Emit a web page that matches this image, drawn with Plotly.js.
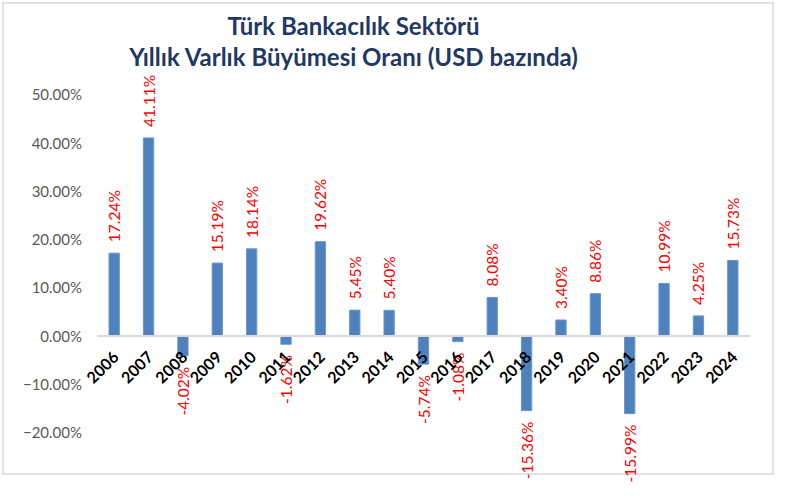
<!DOCTYPE html>
<html><head><meta charset="utf-8">
<script src="https://cdn.plot.ly/plotly-3.0.1.min.js"></script>
<style>html,body{margin:0;padding:0;background:#fff}#c{width:800px;height:496px}</style>
</head><body><div id="c"></div>
<script>
const years = ["2006","2007","2008","2009","2010","2011","2012","2013","2014","2015","2016","2017","2018","2019","2020","2021","2022","2023","2024"];
const growth = [17.24,41.11,-4.02,15.19,18.14,-1.62,19.62,5.45,5.40,-5.74,-1.08,8.08,-15.36,3.40,8.86,-15.99,10.99,4.25,15.73];
const titleLines = ["Türk Bankacılık Sektörü","Yıllık Varlık Büyümesi Oranı (USD bazında)"];

const vals = growth.map(v => v/100);
const pad = '\u00A0\u00A0';
const labels = growth.map(v => v >= 0 ? pad + v.toFixed(2) + '%' : v.toFixed(2) + '%' + pad);

const yMin = -0.2, yMax = 0.5;
const trace = {
  type:'bar', x: years, y: vals,
  marker:{color:'#4F81BD', line:{color:'#6A97CF', width:1}},
  text: labels, textposition:'outside', textangle:-90,
  textfont:{family:'Lato, "Open Sans", sans-serif', size:15.5, color:'#FF0000'},
  constraintext:'none', cliponaxis:false, hoverinfo:'skip'
};
const layout = {
  width:800, height:496,
  margin:{l:97, r:50, t:95, b:63},
  paper_bgcolor:'#fff', plot_bgcolor:'#fff',
  bargap:0.7,
  showlegend:false,
  title:{text: titleLines.join('<br>'), x:0.442, xanchor:'center', y:0.93, yanchor:'top',
    font:{family:'Lato, "Open Sans", sans-serif', size:24, color:'#1F3864', weight:'bold'}},
  xaxis:{type:'category', anchor:'free', position:(0-yMin)/(yMax-yMin),
    showline:true, linecolor:'#D9D9D9', linewidth:2, showgrid:false, zeroline:false,
    ticks:'', tickangle:-45, ticklabelstandoff:4,
    tickfont:{family:'Lato, "Open Sans", sans-serif', size:16, color:'#000', weight:'bold'}},
  yaxis:{range:[yMin,yMax], dtick:0.1, tick0:0, tickformat:'.2%', showgrid:false, zeroline:false,
    showline:false, ticks:'', ticklabelstandoff:14,
    tickfont:{family:'Lato, "Open Sans", sans-serif', size:15, color:'#595959'}},
  shapes:[{type:'rect', xref:'paper', yref:'paper', x0:(3-97)/653, x1:(773-97)/653,
    y0:(433-474)/338, y1:(433-3)/338, line:{color:'#D9D9D9', width:1.5}, fillcolor:'rgba(0,0,0,0)', layer:'below'}]
};
Plotly.newPlot('c',[trace],layout,{displayModeBar:false, staticPlot:true});
</script></body></html>
